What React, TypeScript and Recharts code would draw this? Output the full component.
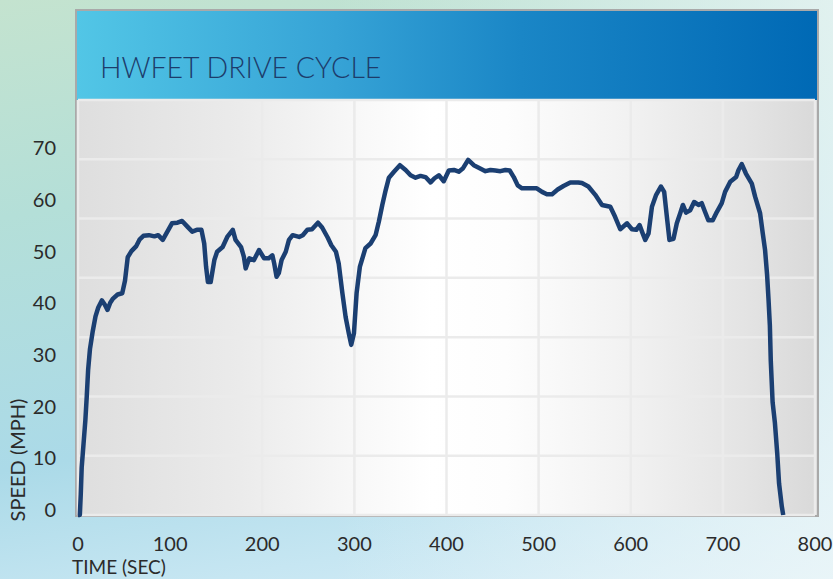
import { LineChart, Line, XAxis, YAxis, CartesianGrid } from 'recharts'

const FONT = 'Lato, "Noto Sans", sans-serif'

// HWFET trace (seconds, mph)
const seconds = [
  0, 2, 3, 4, 6, 8, 9.5, 11, 13, 16, 19, 22, 26, 29, 32, 35, 38, 43, 48, 51,
  54, 58, 63, 67, 71, 77, 83, 87, 92, 97, 102, 108, 113, 119, 124, 129, 134, 137, 139, 141,
  144, 148, 151, 157, 162, 168, 171, 177, 180, 182, 186, 191, 196.5, 202, 207, 211, 213, 215.5, 218, 221,
  225.5, 229, 233, 240, 244, 249, 254, 260.5, 265, 271, 275, 280, 283, 287, 290.5, 294, 296.6, 299.5, 302.4, 306,
  312, 317.6, 323, 326.6, 330.3, 334, 337.5, 343, 349.4, 355.6, 361, 366.4, 371.8, 377.2, 382.7, 387, 391.7, 397, 402.5, 408,
  413.3, 418, 423.5, 429.6, 436, 442.3, 447.7, 453, 458.5, 464, 468.6, 473, 477.3, 482, 489, 498, 503.7, 509, 514.6, 520.7,
  527, 534.4, 543, 547, 554, 561.5, 568.8, 577.8, 583, 588.6, 596, 601.3, 606, 609.6, 612.2, 615.7, 619.3, 623, 627.6, 632.7,
  636.3, 639.2, 642, 646.4, 650, 653.7, 656.6, 660, 664.5, 668.8, 673.5, 677, 680.7, 684.3, 689, 693.4, 698.8, 702.4, 708, 714.4,
  717, 720.5, 725, 731.4, 735, 740.4, 743.3, 745.8, 748, 749.5, 751, 752, 754, 756.5, 759, 761, 764, 765.5,
]
const mph = [
  0, 0, 3.5, 8, 12, 16, 20, 24.5, 28, 31, 33.5, 35, 36.2, 35.5, 34.6, 35.8, 36.5, 37.2, 37.4, 39.5,
  43.5, 44.5, 45.3, 46.5, 47.1, 47.2, 47, 47.2, 46.4, 47.8, 49.2, 49.3, 49.6, 48.6, 47.8, 48.1, 48.1, 45.8, 41.9, 39.3,
  39.3, 43, 44.4, 45.2, 46.9, 48.1, 46.4, 45.2, 43.6, 41.6, 43.3, 43, 44.7, 43.3, 43.3, 43.8, 42.4, 40.2, 40.8, 43,
  44.4, 46.4, 47.2, 46.9, 47.2, 48.1, 48.2, 49.3, 48.5, 46.8, 45.5, 44.4, 42.4, 37.4, 33.4, 30.6, 28.7, 30.6, 37.4, 41.9,
  45, 45.8, 47.2, 49.5, 52.3, 54.8, 56.9, 57.9, 59, 58.2, 57.3, 56.9, 57.2, 57, 56.1, 56.8, 57.3, 56.3, 58.1, 58.2,
  57.9, 58.5, 59.9, 59, 58.5, 58, 58.2, 58.1, 58, 58.2, 58.1, 57, 55.6, 55.1, 55.1, 55.1, 54.5, 54.1, 54.1, 54.9,
  55.5, 56.1, 56.1, 56, 55.4, 54, 52.3, 52, 50.3, 48.2, 49.2, 48.2, 48.1, 48.9, 47.8, 46.4, 47.5, 52, 54, 55.4,
  54.5, 50.3, 46.4, 46.6, 49.2, 50.9, 52.3, 51, 51.4, 52.8, 52.3, 52.6, 51.1, 49.7, 49.7, 51.1, 52.6, 54.5, 56.2, 57,
  58.2, 59.2, 57.6, 55.9, 53.7, 50.9, 47.5, 44.7, 40.5, 36.5, 32, 26, 19, 15.5, 10.4, 5.3, 1.4, 0,
]

const timeTicks = [0, 100, 200, 300, 400, 500, 600, 700, 800]
const gridTimes = [200, 300, 400, 500, 600, 700]
const speedLabels = [0, 10, 20, 30, 40, 50, 60, 70]
const gridSpeeds = [10, 20, 30, 40, 50, 60]

// the printed speed labels in the original sit on a tighter scale than the grid
const labelDomain = [-0.97, 79.3]

const data = seconds.map((t, i) => ({ t, mph: mph[i] }))

const tickStyle = { fill: '#2b2b2b', fontSize: 20, fontFamily: FONT }

export default function App() {
  return (
    <div
      style={{
        position: 'absolute',
        left: 0,
        top: 0,
        width: 833,
        height: 579,
        overflow: 'hidden',
        background:
          'linear-gradient(90deg, rgba(255,255,255,0) 40%, rgba(238,247,248,0.75) 100%), linear-gradient(170deg, #c4e3cf 0%, #b4dfd8 30%, #abdae8 65%, #c6e6f2 85%, #d9eef8 100%)',
      }}
    >
      {/* panel frame */}
      <div
        style={{
          position: 'absolute',
          left: 75,
          top: 9,
          width: 740,
          height: 504,
          border: '2px solid #a9a9a9',
        }}
      />
      {/* title bar */}
      <div
        style={{
          position: 'absolute',
          left: 77,
          top: 11,
          width: 740,
          height: 89,
          background: 'linear-gradient(90deg, #52c6e6 0%, #36a3d6 35%, #1a86c6 60%, #0069b5 100%)',
        }}
      />
      {/* plot background */}
      <div
        style={{
          position: 'absolute',
          left: 77,
          top: 100,
          width: 740,
          height: 415,
          background:
            'linear-gradient(90deg, #dedede 0%, #ebebeb 22%, #f8f8f8 38%, #ffffff 48%, #fdfdfd 58%, #f2f2f2 74%, #e4e4e4 90%, #d9d9d9 100%)',
        }}
      />
      <div style={{ position: 'absolute', left: 0, top: 0 }}>
        <LineChart width={833} height={579} data={data} margin={{ top: 100, right: 18, bottom: 34, left: 18 }}>
          <XAxis
            xAxisId="time"
            dataKey="t"
            type="number"
            domain={[0, 800]}
            ticks={timeTicks}
            height={30}
            axisLine={false}
            tickLine={false}
            tickSize={6}
            tickMargin={16}
            tick={tickStyle}
            interval={0}
          />
          <XAxis xAxisId="grid" dataKey="t" type="number" domain={[0, 800]} ticks={gridTimes} height={0} hide />
          <YAxis
            yAxisId="label"
            type="number"
            domain={labelDomain}
            allowDataOverflow
            ticks={speedLabels}
            width={60}
            axisLine={false}
            tickLine={false}
            tickSize={6}
            tickMargin={16}
            tick={tickStyle}
            interval={0}
          />
          <YAxis yAxisId="speed" type="number" domain={[0, 70]} ticks={gridSpeeds} width={0} hide />
          <CartesianGrid xAxisId="grid" yAxisId="speed" stroke="#ebebeb" strokeWidth={2.5} />
          <Line
            xAxisId="time"
            yAxisId="speed"
            dataKey="mph"
            type="linear"
            stroke="#1b3f72"
            strokeWidth={4.5}
            strokeLinejoin="round"
            dot={false}
            isAnimationActive={false}
          />
        </LineChart>
      </div>
      <svg width={833} height={579} style={{ position: 'absolute', left: 0, top: 0, pointerEvents: 'none' }}>
        <text x={100} y={78} fontSize={28.5} fontWeight={300} fill="#1d3c6b" fontFamily={FONT}>
          HWFET DRIVE CYCLE
        </text>
        <text x={72} y={574} fontSize={19} fill="#2b2b2b" fontFamily={FONT}>
          TIME (SEC)
        </text>
        <text
          transform="translate(25,460) rotate(-90)"
          textAnchor="middle"
          fontSize={20}
          fill="#2b2b2b"
          fontFamily={FONT}
        >
          SPEED (MPH)
        </text>
      </svg>
    </div>
  )
}
